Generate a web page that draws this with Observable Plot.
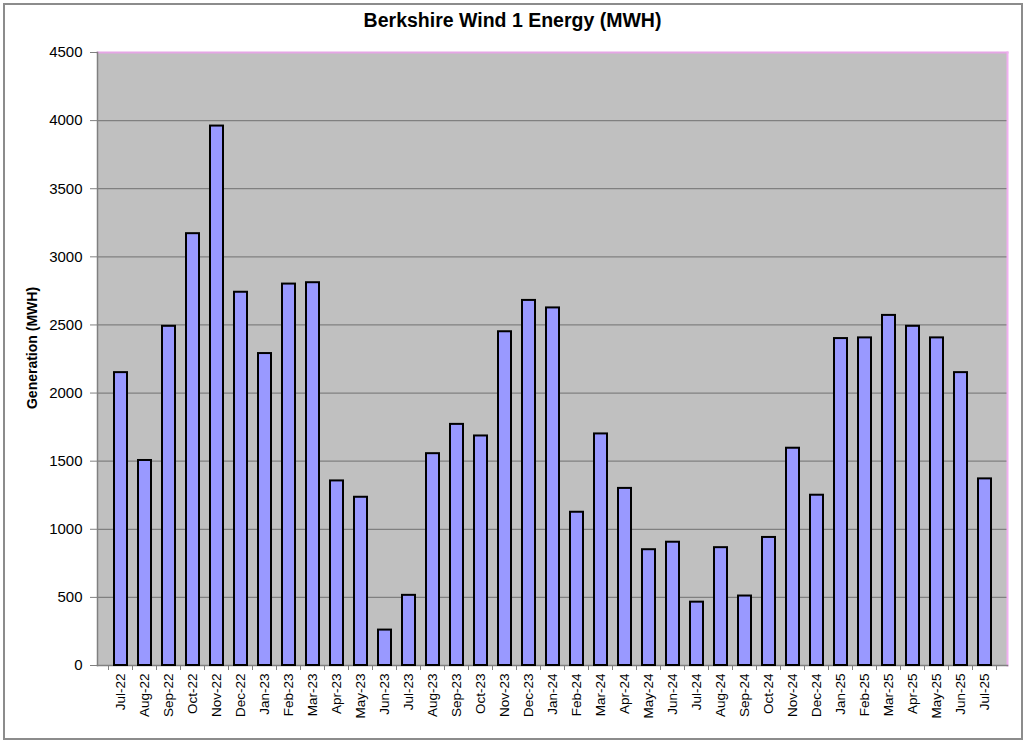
<!DOCTYPE html>
<html>
<head>
<meta charset="utf-8">
<script src="https://cdn.jsdelivr.net/npm/d3@7"></script>
<script src="https://cdn.jsdelivr.net/npm/@observablehq/plot@0.6"></script>
<style>
  html, body { margin: 0; padding: 0; background: #fff; }
  #wrap { position: relative; width: 1024px; height: 741px; }
  #border { position: absolute; left: 3px; top: 3px; width: 1016px; height: 733px; border: 2px solid #8c8c8c; pointer-events: none; }
</style>
</head>
<body>
<div id="wrap"><div id="border"></div></div>
<script>
const title = "Berkshire Wind 1 Energy (MWH)";
const yLabel = "Generation (MWH)";
const months = ["Jul-22","Aug-22","Sep-22","Oct-22","Nov-22","Dec-22","Jan-23","Feb-23","Mar-23","Apr-23","May-23","Jun-23","Jul-23","Aug-23","Sep-23","Oct-23","Nov-23","Dec-23","Jan-24","Feb-24","Mar-24","Apr-24","May-24","Jun-24","Jul-24","Aug-24","Sep-24","Oct-24","Nov-24","Dec-24","Jan-25","Feb-25","Mar-25","Apr-25","May-25","Jun-25","Jul-25"];
const energy = [2150,1505,2490,3170,3960,2740,2290,2800,2810,1355,1235,260,515,1555,1770,1685,2450,2680,2625,1125,1700,1300,850,905,465,865,510,940,1595,1250,2400,2405,2570,2490,2405,2150,1370];
const yTicks = [0,500,1000,1500,2000,2500,3000,3500,4000,4500];

const data = months.map((m, i) => ({month: m, value: energy[i]}));
const font = "'Liberation Sans', Arial, sans-serif";

const bandTicks = (index, scales, values, dims) => {
  const x = scales.x;
  const step = x(months[1]) - x(months[0]);
  const bw = x.bandwidth();
  const gap = (step - bw) / 2;
  const g = d3.create("svg:g").attr("stroke", "#808080").attr("stroke-width", 1);
  const y0 = dims.height - dims.marginBottom;
  const edges = months.map(m => x(m) - gap).concat([x(months[months.length - 1]) + bw + gap]);
  for (const e of edges) {
    g.append("line").attr("x1", e).attr("x2", e).attr("y1", y0).attr("y2", y0 + 5);
  }
  return g.node();
};

const chart = Plot.plot({
  width: 1024,
  height: 741,
  marginLeft: 97,
  marginRight: 17,
  marginTop: 52,
  marginBottom: 76,
  style: {fontFamily: font, background: "transparent", color: "#000"},
  x: {type: "band", domain: months, paddingInner: 0.47, paddingOuter: 0.235, label: null},
  y: {domain: [0, 4500], label: null},
  marks: [
    Plot.frame({fill: "#C0C0C0", stroke: null}),
    Plot.gridY(yTicks.filter(t => t > 0 && t < 4500), {stroke: "#808080", strokeOpacity: 1, strokeWidth: 1.2}),
    Plot.frame({anchor: "top", stroke: "#E6A6E6", strokeWidth: 2}),
    Plot.frame({anchor: "right", stroke: "#F0B0F0", strokeWidth: 2}),
    Plot.frame({anchor: "left", stroke: "#808080", strokeWidth: 1.5}),
    Plot.frame({anchor: "bottom", stroke: "#808080", strokeWidth: 1.5}),
    Plot.barY(data, {x: "month", y: "value", fill: "#9999FF", stroke: "#000", strokeWidth: 2}),
    Plot.axisY(yTicks, {tickSize: 7, tickPadding: 8, fontSize: 15, stroke: "#808080", fill: "#000", tickFormat: d => String(d), label: null}),
    Plot.axisX({tickSize: 0, tickRotate: -90, tickPadding: 8, fontSize: 13.5, fill: "#000", label: null}),
    bandTicks,
    Plot.text([title], {frameAnchor: "top", textAnchor: "middle", dx: -40, dy: -39, fontSize: 19.5, fontWeight: "bold", fill: "#000"}),
    Plot.text([yLabel], {frameAnchor: "left", textAnchor: "middle", dx: -65, dy: -11, rotate: -90, fontSize: 14, fontWeight: "bold", fill: "#000"})
  ]
});
document.getElementById("wrap").prepend(chart);
chart.style.position = "absolute";
chart.style.left = "0";
chart.style.top = "0";
</script>
</body>
</html>
